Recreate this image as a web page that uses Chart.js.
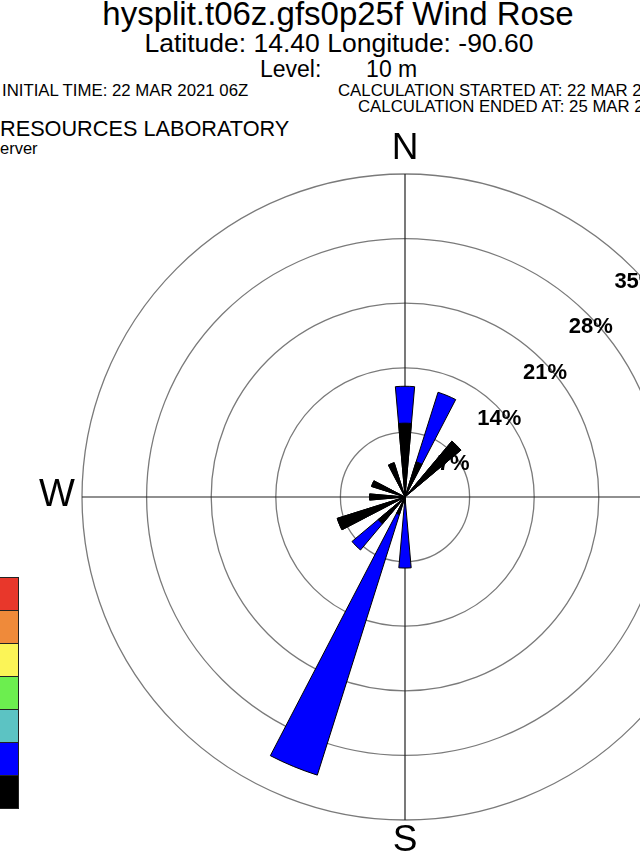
<!DOCTYPE html>
<html>
<head>
<meta charset="utf-8">
<title>Wind Rose</title>
<script src="https://cdn.jsdelivr.net/npm/chart.js@4.4.0/dist/chart.umd.min.js"></script>
<style>
  html, body { margin:0; padding:0; background:#fff; }
  #page { position:relative; width:640px; height:853px; overflow:hidden;
          font-family:"Liberation Sans", Arial, Helvetica, sans-serif; color:#000; }
  .t { position:absolute; white-space:pre; line-height:1; }
  #rose { position:absolute; left:-10px; top:164px; }
  .key { position:absolute; left:-20px; width:37px; height:32px; border:1px solid #222; }
</style>
</head>
<body>
<div id="page">
  <div class="t" style="left:0;width:676px;text-align:center;top:-3px;font-size:33px;">hysplit.t06z.gfs0p25f Wind Rose</div>
  <div class="t" style="left:0;width:678px;text-align:center;top:30px;font-size:26.5px;">Latitude: 14.40 Longitude: -90.60</div>
  <div class="t" style="left:260px;top:58px;font-size:23px;">Level:       10 m</div>
  <div class="t" style="left:2px;top:83px;font-size:16.8px;">INITIAL TIME: 22 MAR 2021 06Z</div>
  <div class="t" style="left:338px;top:83px;font-size:16.8px;">CALCULATION STARTED AT: 22 MAR 2021 06Z</div>
  <div class="t" style="left:358px;top:99px;font-size:16.8px;">CALCULATION ENDED AT: 25 MAR 2021 06Z</div>
  <div class="t" style="left:0;top:118px;font-size:21.7px;">RESOURCES LABORATORY</div>
  <div class="t" style="left:0;top:140px;font-size:16.5px;">erver</div>

  <canvas id="rose" width="830" height="666"></canvas>

  <div class="t" style="left:305px;width:200px;text-align:center;top:128px;font-size:37px;">N</div>
  <div class="t" style="left:7px;width:100px;text-align:center;top:474px;font-size:38px;">W</div>
  <div class="t" style="left:305px;width:200px;text-align:center;top:820px;font-size:37px;">S</div>

  <div id="keys"></div>
</div>

<script>
/* ---------- data (percent of hours) ---------- */
const DIRS       = ['N','NNE','NE','ENE','E','ESE','SE','SSE','S','SSW','SW','WSW','W','WNW','NW','NNW'];
// lowest speed class (black), measured from the centre
const blackPct   = [8.0, 4.0, 7.9, 0, 0, 0, 0, 0, 0.5, 2.0, 3.8, 7.7, 3.85, 3.8, 0, 3.9];
// outer edge of the second speed class (blue), stacked on the black
const blueOuter  = [12.0, 11.9, 7.9, 0, 0, 0, 0, 0, 7.7, 31.6, 7.5, 7.7, 3.85, 3.8, 0, 3.9];
const RING_TICKS = [7, 14, 21, 28, 35];
const KEY_COLORS = ['#e8372b', '#ef8a3a', '#fbf457', '#6cee4f', '#5cc3c3', '#0000ff', '#000000'];

const PETAL_DEG = 10;                 // width of each petal
const SECTOR    = 360 / DIRS.length;  // 22.5

/* each direction becomes a petal slot followed by an empty gap slot */
const slotLabels = DIRS.flatMap(d => [d, '']);
const slotAngles = DIRS.flatMap(() => [PETAL_DEG, SECTOR - PETAL_DEG]);
const toSlots    = vals => vals.flatMap(v => [v, 0]);

/* ---------- cross lines + ring labels, drawn under the petals ---------- */
const roseDecor = {
  id: 'roseDecor',
  beforeDatasetsDraw(chart) {
    const r   = chart.scales.r;
    const ctx = chart.ctx;
    const cx = r.xCenter, cy = r.yCenter, R = r.drawingArea;
    ctx.save();
    ctx.strokeStyle = '#222';
    ctx.lineWidth = 1.2;
    ctx.beginPath();
    ctx.moveTo(cx, cy - R); ctx.lineTo(cx, cy + R);
    ctx.moveTo(cx - R, cy); ctx.lineTo(cx + R, cy);
    ctx.stroke();

    ctx.font = 'bold 22px "Liberation Sans", Arial, sans-serif';
    ctx.fillStyle = '#000';
    ctx.textAlign = 'center';
    ctx.textBaseline = 'top';
    RING_TICKS.forEach(v => {
      const d = r.getDistanceFromCenterForValue(v) * Math.SQRT1_2;
      ctx.fillText(v + '%', cx + d + 3, cy - d + 2);
    });
    ctx.restore();
  }
};

const petal = (label, vals, color) => ({
  label,
  data: toSlots(vals),
  backgroundColor: color,
  borderColor: '#000',
  borderWidth: c => (c.raw > 0 ? 1 : 0),
  angle: c => slotAngles[c.dataIndex]
});

new Chart(document.getElementById('rose'), {
  type: 'polarArea',
  data: {
    labels: slotLabels,
    datasets: [
      petal('class 1', blackPct, '#000000'),   // dataset 0 is painted on top
      petal('class 2', blueOuter, '#0000ff')
    ]
  },
  options: {
    responsive: false,
    animation: false,
    layout: { padding: 10 },
    plugins: { legend: { display: false }, tooltip: { enabled: false } },
    scales: {
      r: {
        min: 0, max: 35,
        startAngle: -PETAL_DEG / 2,
        ticks: { display: false, stepSize: 7 },
        grid: { circular: true, color: '#7a7a7a', lineWidth: 1.3 },
        angleLines: { display: false },
        pointLabels: { display: false }
      }
    }
  },
  plugins: [roseDecor]
});

/* ---------- colour key on the left edge ---------- */
const keys = document.getElementById('keys');
KEY_COLORS.forEach((c, i) => {
  const d = document.createElement('div');
  d.className = 'key';
  d.style.top = (577 + i * 33) + 'px';
  d.style.background = c;
  keys.appendChild(d);
});
</script>
</body>
</html>
